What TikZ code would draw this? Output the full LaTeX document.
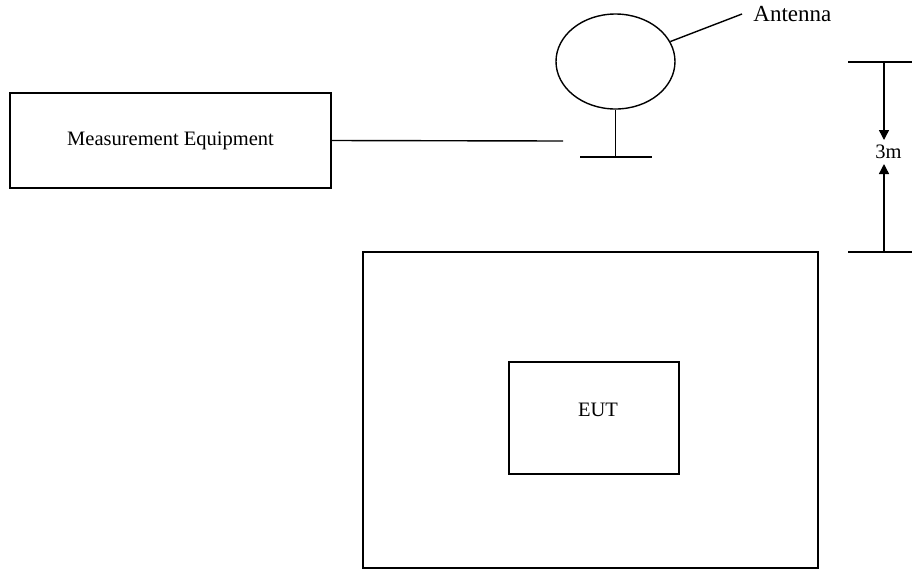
\documentclass[tikz,border=0pt]{standalone}
\usepackage{fontspec}
\setmainfont{Liberation Serif}
\usetikzlibrary{arrows.meta, positioning, shapes.geometric}
\tikzset{
  plainbox/.style={rectangle, draw=black, line width=0.7pt, fill=white,
                   minimum width=#1, inner sep=0pt, align=center,
                   font=\fontsize{10.25}{12}\selectfont},
  antshape/.style={ellipse, draw=black, line width=0.7pt, inner sep=0pt,
                   minimum width=59.5pt, minimum height=47.5pt},
  wire/.style={line width=0.7pt},
  arr/.style={-{Triangle[length=5pt, width=5pt]}, line width=0.7pt},
  lbl/.style={inner sep=0pt, font=\fontsize{10.25}{12}\selectfont},
}
\begin{document}
\begin{tikzpicture}[x=0.5pt, y=-0.5pt]
  \useasboundingbox (0,0) rectangle (912,569);

  % equipment and antenna
  \node[plainbox=160.5pt, minimum height=47.5pt] (meas) at (170.5,140.5)
       {Measurement Equipment};
  \node[antshape] (ant) at (615.5,61.5) {};
  \node[lbl, font=\fontsize{11.5}{13}\selectfont, anchor=west] (antlabel)
       at (753,14) {Antenna};

  \coordinate (feed)  at (563,141);
  \coordinate (baseL) at (580,157);
  \coordinate (baseR) at (652,157);

  \draw[wire] (meas.east) -- (feed);
  \draw[wire] (ant.south) -- (ant.south |- baseL);
  \draw[wire] (baseL) -- (baseR);
  \draw[wire] (ant.20) -- ([xshift=-5.5pt]antlabel.west);

  % test table with EUT
  \node[plainbox=227.5pt, minimum height=158pt] (table) at (590.5,410) {};
  \node[plainbox=85pt, minimum height=56pt,
        label={[lbl, xshift=2pt, yshift=4pt]center:EUT}] (eut) at (594,418) {};

  % 3m distance
  \coordinate (topL) at (848,62);
  \coordinate (topR) at (912,62);
  \coordinate (botL) at (848,252);
  \coordinate (botR) at (912,252);
  \coordinate (topA) at (884,62);
  \coordinate (botA) at (884,252);
  \node[lbl] (dist) at (888.5,152) {3m};

  \draw[wire] (topL) -- (topR);
  \draw[wire] (botL) -- (botR);
  \draw[arr] (topA) -- (884,140);
  \draw[arr] (botA) -- (884,164);
\end{tikzpicture}
\end{document}
